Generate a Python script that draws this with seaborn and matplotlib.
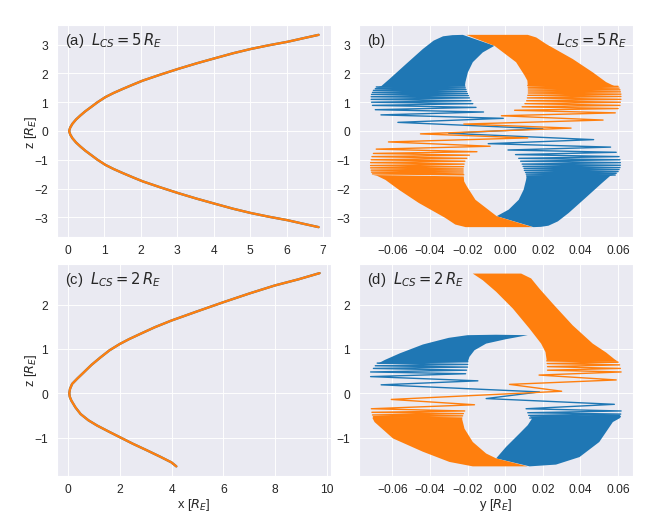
import numpy as np
import matplotlib
matplotlib.use('Agg')
import matplotlib.pyplot as plt
import seaborn as sns

# ---------------------------------------------------------------
# data
# ---------------------------------------------------------------

# (a) x-z trajectory, L_CS = 5 R_E
a_x = [6.88, 6.45, 6.03, 5.52, 5.02, 4.53, 4.04, 3.53, 3.03, 2.54, 2.05, 1.78,
       1.50, 1.25, 1.03, 0.81, 0.63, 0.47, 0.34, 0.22, 0.12, 0.06, 0.03,
       0.06, 0.12, 0.22, 0.34, 0.47, 0.63, 0.81, 1.03, 1.25, 1.50, 1.78,
       2.05, 2.54, 3.03, 3.53, 4.04, 4.53, 5.02, 5.52, 6.03, 6.45, 6.88]
a_z = [3.34, 3.22, 3.10, 2.98, 2.85, 2.70, 2.53, 2.35, 2.16, 1.96, 1.75, 1.61,
       1.46, 1.32, 1.18, 1.00, 0.83, 0.68, 0.54, 0.40, 0.25, 0.12, 0.0,
       -0.12, -0.25, -0.40, -0.54, -0.68, -0.83, -1.00, -1.18, -1.32, -1.46, -1.61,
       -1.75, -1.96, -2.16, -2.35, -2.53, -2.70, -2.85, -2.98, -3.10, -3.22, -3.34]

# (c) x-z trajectory, L_CS = 2 R_E
c_x = [9.72, 8.90, 7.98, 7.00, 5.98, 5.00, 3.99, 3.35, 2.79, 2.35, 1.99, 1.60,
       1.25, 0.90, 0.60, 0.35, 0.15, 0.07, 0.04, 0.06, 0.12, 0.28, 0.48, 0.78,
       1.12, 1.55, 1.99, 2.50, 3.05, 3.55, 3.99, 4.18]
c_z = [2.71, 2.57, 2.43, 2.25, 2.05, 1.85, 1.64, 1.49, 1.34, 1.22, 1.11, 0.97,
       0.81, 0.64, 0.47, 0.33, 0.21, 0.10, 0.0, -0.08, -0.165, -0.32, -0.47, -0.61,
       -0.73, -0.86, -0.99, -1.14, -1.29, -1.43, -1.56, -1.65]

# (b) y-z, L_CS = 5 R_E : dense bands (outline) and the open meanders (turning points)
b_blue_top_y = [-0.0225, -0.0280, -0.0330, -0.0380, -0.0437, -0.0526, -0.0614, -0.0658, -0.0685,
                -0.0214, -0.0211, -0.0198, -0.0172, -0.0119, -0.0057]
b_blue_top_z = [3.34, 3.33, 3.29, 3.14, 2.85, 2.33, 1.81, 1.56, 1.50,
                1.56, 1.70, 2.04, 2.39, 2.73, 2.96]
b_blue_bot_y = [0.0150, 0.0190, 0.0230, 0.0280, 0.0337, 0.0426, 0.0514, 0.0558, 0.0585,
                0.0114, 0.0111, 0.0098, 0.0072, 0.0019, -0.0045]
b_blue_bot_z = [-3.34, -3.33, -3.29, -3.14, -2.85, -2.33, -1.81, -1.56, -1.50,
                -1.56, -1.70, -2.04, -2.39, -2.73, -2.96]
b_blue_y = [-0.0214, -0.0685, -0.0212, -0.069, -0.0208, -0.0700, -0.0205, -0.0705,
            -0.0200, -0.0710, -0.0195, -0.0712, -0.0190, -0.0712, -0.0182, -0.0710,
            -0.0172, -0.0705, -0.0155, -0.069, -0.0115, -0.066, -0.001, -0.057,
            0.020, -0.030, 0.047, -0.009, 0.056, 0.0015, 0.059, 0.0055, 0.0605,
            0.0072, 0.0610, 0.0082, 0.0612, 0.0090, 0.0612, 0.0095, 0.0610, 0.0100,
            0.0605, 0.0102, 0.0600, 0.0108, 0.0590, 0.0112, 0.0585, 0.0114]
b_blue_z = [1.56, 1.53, 1.50, 1.47, 1.44, 1.41, 1.37, 1.34, 1.30, 1.27, 1.23,
            1.19, 1.15, 1.10, 1.05, 1.00, 0.95, 0.89, 0.82, 0.74, 0.66, 0.56,
            0.44, 0.30, 0.08, -0.08, -0.30, -0.44, -0.56, -0.66, -0.74, -0.82,
            -0.89, -0.95, -1.00, -1.05, -1.10, -1.15, -1.19, -1.23, -1.27, -1.30,
            -1.34, -1.37, -1.41, -1.44, -1.47, -1.50, -1.53, -1.56]

b_orng_top_y = [-0.0207, 0.0120, 0.0165, 0.0218, 0.0359, 0.0465, 0.0536, 0.0580, 0.0600,
                0.0120, 0.0118, 0.0103, 0.0058, -0.0057]
b_orng_top_z = [3.34, 3.34, 3.25, 3.02, 2.50, 2.04, 1.70, 1.56, 1.53,
                1.58, 1.75, 1.93, 2.39, 2.96]
b_orng_bot_y = [0.0145, -0.0210, -0.0265, -0.0318, -0.0459, -0.0565, -0.0636, -0.0680, -0.0700,
                -0.0220, -0.0218, -0.0203, -0.0158, -0.0045]
b_orng_bot_z = [-3.34, -3.34, -3.25, -3.02, -2.50, -2.04, -1.70, -1.56, -1.53,
                -1.58, -1.75, -1.93, -2.39, -2.96]
b_orng_y = [0.0120, 0.0600, 0.0122, 0.0605, 0.0123, 0.0610, 0.0123, 0.0612, 0.0123,
            0.0615, 0.0120, 0.0615, 0.0118, 0.0615, 0.0114, 0.0612, 0.0105,
            0.061, 0.009, 0.060, 0.005, 0.0585, -0.002, 0.052, -0.022, 0.035,
            -0.045, 0.012, -0.062, -0.008, -0.0685, -0.015, -0.070, -0.019,
            -0.0708, -0.0204, -0.0712, -0.0214, -0.0715, -0.0218, -0.0715, -0.0221,
            -0.0715, -0.0223, -0.0712, -0.0223, -0.0710, -0.0223, -0.0705, -0.0220]
b_orng_z = [1.58, 1.55, 1.52, 1.49, 1.46, 1.43, 1.39, 1.36, 1.32, 1.28, 1.24,
            1.20, 1.15, 1.10, 1.05, 1.00, 0.95, 0.89, 0.84, 0.78, 0.72, 0.63,
            0.53, 0.38, 0.24, 0.10, -0.10, -0.24, -0.38, -0.53, -0.63, -0.72,
            -0.78, -0.84, -0.89, -0.95, -1.00, -1.05, -1.10, -1.15, -1.20, -1.24,
            -1.28, -1.32, -1.36, -1.39, -1.43, -1.46, -1.49, -1.52]

# (d) y-z, L_CS = 2 R_E
d_blue_top_y = [0.0120, -0.0050, -0.0200, -0.0300, -0.0437, -0.0560, -0.0640, -0.0680,
                -0.0198, -0.0190, -0.0163, -0.0101, 0.0005]
d_blue_top_z = [1.31, 1.32, 1.31, 1.25, 1.10, 0.90, 0.75, 0.66,
                0.71, 0.82, 0.97, 1.12, 1.22]
d_blue_bot_y = [0.0612, 0.0610, 0.0572, 0.0500, 0.0395, 0.0270, 0.0130,
                -0.0048, 0.0005, 0.0076, 0.0120, 0.0143, 0.0130]
d_blue_bot_z = [-0.48, -0.56, -0.65, -1.10, -1.44, -1.61, -1.65,
                -1.47, -1.21, -0.91, -0.72, -0.57, -0.52]
d_blue_y = [-0.0198, -0.0680, -0.0199, -0.0690, -0.0200, -0.0700, -0.0205,
            -0.0715, -0.0210, -0.0715, -0.0145, -0.0659, 0.0182, -0.0101, 0.0580,
            0.0111, 0.0616, 0.0120, 0.0614, 0.0125, 0.0612, 0.0130]
d_blue_z = [0.71, 0.68, 0.65, 0.62, 0.59, 0.56, 0.52, 0.48, 0.44, 0.375, 0.28,
            0.19, 0.03, -0.12, -0.25, -0.35, -0.40, -0.44, -0.47, -0.50, -0.53, -0.56]

d_orng_top_y = [-0.0172, 0.0085, 0.0138, 0.0182, 0.0253, 0.0359, 0.0465, 0.0536, 0.0580, 0.0600,
                0.0221, 0.0214, 0.0191, 0.0129, 0.0041, -0.0048, -0.0119]
d_orng_top_z = [2.70, 2.70, 2.59, 2.36, 2.02, 1.53, 1.12, 0.92, 0.77, 0.71,
                0.73, 0.93, 1.12, 1.46, 1.91, 2.29, 2.55]
d_orng_bot_y = [-0.0700, -0.0705, -0.0694, -0.0596, -0.0437, -0.0296, -0.0172, 0.0120,
                -0.0048, -0.0101, -0.0172, -0.0216, -0.0230]
d_orng_bot_z = [-0.53, -0.56, -0.65, -1.02, -1.32, -1.55, -1.65, -1.65,
                -1.47, -1.36, -1.10, -0.80, -0.56]
d_orng_y = [0.0221, 0.0600, 0.0223, 0.0608, 0.0225, 0.0612, 0.0225, 0.0616,
            0.0180, 0.0590, 0.0023, 0.0300, -0.0605, -0.0163, -0.0711, -0.0215,
            -0.0708, -0.0222, -0.0705, -0.0226, -0.0700, -0.0230]
d_orng_z = [0.73, 0.70, 0.67, 0.64, 0.60, 0.56, 0.52, 0.48, 0.41, 0.30, 0.20,
            0.045, -0.14, -0.26, -0.35, -0.40, -0.43, -0.46, -0.49, -0.51, -0.53, -0.56]

BLUE = '#1f77b4'
ORANGE = '#ff7f0e'

sns.set_theme(style='darkgrid', rc={'xtick.labelsize': 13, 'ytick.labelsize': 13,
                                    'axes.labelsize': 14, 'xtick.major.pad': 1.5})
plt.rcParams['font.family'] = ['Liberation Sans', 'DejaVu Sans']

fig, axes = plt.subplots(2, 2, figsize=(10, 8.012), dpi=66.4)
fig.subplots_adjust(left=0.086, right=0.953, top=0.951, bottom=0.104,
                    wspace=0.102, hspace=0.127)
ax_a, ax_b = axes[0]
ax_c, ax_d = axes[1]


def xz_panel(ax, xs, zs):
    sns.lineplot(x=xs, y=zs, sort=False, estimator=None, color=BLUE, lw=2.5, ax=ax)
    sns.lineplot(x=xs, y=zs, sort=False, estimator=None, color=ORANGE, lw=2.5, ax=ax)


def yz_panel(ax, parts):
    for color, top_y, top_z, bot_y, bot_z, ys, zs in parts:
        ax.fill(top_y, top_z, color=color, lw=0)
        ax.fill(bot_y, bot_z, color=color, lw=0)
        sns.lineplot(x=ys, y=zs, sort=False, estimator=None, color=color,
                     lw=1.5, ax=ax)


xz_panel(ax_a, a_x, a_z)
xz_panel(ax_c, c_x, c_z)
yz_panel(ax_b, [
    (BLUE, b_blue_top_y, b_blue_top_z, b_blue_bot_y, b_blue_bot_z, b_blue_y, b_blue_z),
    (ORANGE, b_orng_top_y, b_orng_top_z, b_orng_bot_y, b_orng_bot_z, b_orng_y, b_orng_z),
])
yz_panel(ax_d, [
    (BLUE, d_blue_top_y, d_blue_top_z, d_blue_bot_y, d_blue_bot_z, d_blue_y, d_blue_z),
    (ORANGE, d_orng_top_y, d_orng_top_z, d_orng_bot_y, d_orng_bot_z, d_orng_y, d_orng_z),
])

ax_a.set_xlim(-0.30, 7.22)
ax_a.set_ylim(-3.68, 3.68)
ax_b.set_xlim(-0.0777, 0.0678)
ax_b.set_ylim(-3.68, 3.68)
ax_c.set_xlim(-0.43, 10.16)
ax_c.set_ylim(-1.86, 2.92)
ax_d.set_xlim(-0.0777, 0.0678)
ax_d.set_ylim(-1.86, 2.92)

ax_a.set_xticks(range(0, 8))
ax_a.set_yticks(range(-3, 4))
ax_b.set_yticks(range(-3, 4))
ax_b.set_xticks([-0.06, -0.04, -0.02, 0.0, 0.02, 0.04, 0.06])
ax_d.set_xticks([-0.06, -0.04, -0.02, 0.0, 0.02, 0.04, 0.06])
ax_c.set_xticks(range(0, 11, 2))
ax_c.set_yticks([-1, 0, 1, 2])
ax_d.set_yticks([-1, 0, 1, 2])

ax_a.set_ylabel(r'z [$R_E$]', labelpad=-5)
ax_c.set_ylabel(r'z [$R_E$]', labelpad=-5)
ax_c.set_xlabel(r'x [$R_E$]', labelpad=1)
ax_d.set_xlabel(r'y [$R_E$]', labelpad=1)

fs = 16
ax_a.text(0.03, 0.93, r'(a)  $L_{CS} = 5\,R_E$', transform=ax_a.transAxes,
          va='center', fontsize=fs)
ax_b.text(0.03, 0.93, '(b)', transform=ax_b.transAxes, va='center', fontsize=fs)
ax_b.text(0.98, 0.93, r'$L_{CS} = 5\,R_E$', transform=ax_b.transAxes,
          va='center', ha='right', fontsize=fs)
ax_c.text(0.03, 0.93, r'(c)  $L_{CS} = 2\,R_E$', transform=ax_c.transAxes,
          va='center', fontsize=fs)
ax_d.text(0.03, 0.93, r'(d)  $L_{CS} = 2\,R_E$', transform=ax_d.transAxes,
          va='center', fontsize=fs)

fig.savefig('out.png', dpi=66.4)
